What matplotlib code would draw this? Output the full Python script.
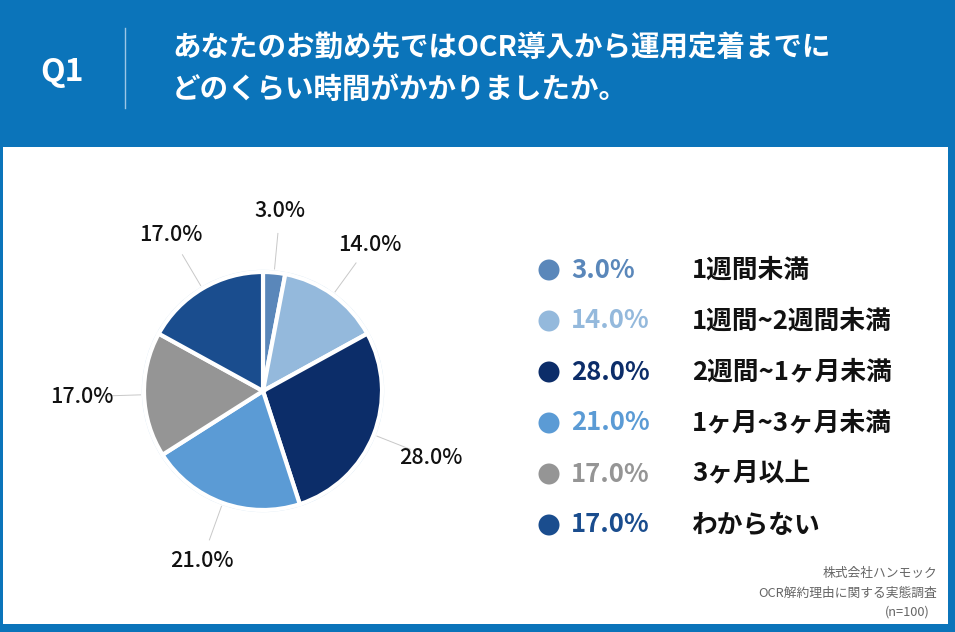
import numpy as np
import matplotlib.pyplot as plt
from matplotlib.patches import Rectangle, Circle

plt.rcParams['font.family'] = ['Noto Sans CJK JP', 'DejaVu Sans']

# data
categories = ["1週間未満", "1週間~2週間未満", "2週間~1ヶ月未満",
              "1ヶ月~3ヶ月未満", "3ヶ月以上", "わからない"]
values = [3.0, 14.0, 28.0, 21.0, 17.0, 17.0]
colors = ["#5a87ba", "#94b9dc", "#0c2d69", "#5b9bd5", "#959595", "#1a4d8e"]

title_lines = ["あなたのお勤め先ではOCR導入から運用定着までに",
               "どのくらい時間がかかりましたか。"]
source_lines = ["株式会社ハンモック", "OCR解約理由に関する実態調査", "(n=100)"]

W, H = 955, 632
blue = "#0b74ba"

fig = plt.figure(figsize=(W / 100, H / 100), dpi=100)
fig.patch.set_facecolor(blue)
ax = fig.add_axes([0, 0, 1, 1])

# helper: pixel y (top-down) -> data y
def py(y):
    return H - y

# white panel
ax.add_patch(Rectangle((3, py(624)), 945, 624 - 147, facecolor="white",
                       edgecolor="none", zorder=0))

# header
ax.text(62, py(72), "Q1", color="white", fontsize=23, fontweight="bold",
        ha="center", va="center")
ax.plot([125, 125], [py(28), py(108)], color="#9cc6e6", lw=1)
ax.text(172, py(48), title_lines[0], color="white", fontsize=20.5,
        fontweight="bold", ha="left", va="center")
ax.text(172, py(90), title_lines[1], color="white", fontsize=20.5,
        fontweight="bold", ha="left", va="center")

# pie
cx, cy, r = 263, py(391), 119
wedges, _ = ax.pie(values, colors=colors, startangle=90, counterclock=False,
                   radius=r, center=(cx, cy), frame=True,
                   wedgeprops=dict(edgecolor="white", linewidth=3))
ax.add_patch(Circle((cx, cy), r + 1.5, facecolor="none",
                    edgecolor="#d6e6f3", lw=1, zorder=0.5))

for w, v in zip(wedges, values):
    ang = np.deg2rad((w.theta1 + w.theta2) / 2)
    ca, sa = np.cos(ang), np.sin(ang)
    ax.plot([cx + ca * r * 1.03, cx + ca * r * 1.33],
            [cy + sa * r * 1.03, cy + sa * r * 1.33],
            color="#c8c8c8", lw=0.7)
    ax.text(cx + ca * r * 1.52, cy + sa * r * 1.52, f"{v:.1f}%",
            fontsize=15.5, color="#111111", fontweight="medium",
            ha="center", va="center")

# legend
y0, dy = 270, 51
for i, (cat, v, c) in enumerate(zip(categories, values, colors)):
    y = py(y0 + i * dy)
    ax.add_patch(Circle((549, y), 10.5, facecolor=c, edgecolor="none"))
    ax.text(571, y, f"{v:.1f}%", color=c, fontsize=18.5, fontweight="bold",
            ha="left", va="center")
    ax.text(692, y, cat, color="#111111", fontsize=18.5, fontweight="bold",
            ha="left", va="center")

# source note
src_x = [937, 937, 930]
for i, s in enumerate(source_lines):
    ax.text(src_x[i], py(574 + i * 19), s, color="#666666", fontsize=9.2,
            ha="right", va="center")

ax.set_xlim(0, W)
ax.set_ylim(0, H)
ax.set_aspect("equal")
ax.axis("off")

fig.savefig("out.png", dpi=100, facecolor=blue)
